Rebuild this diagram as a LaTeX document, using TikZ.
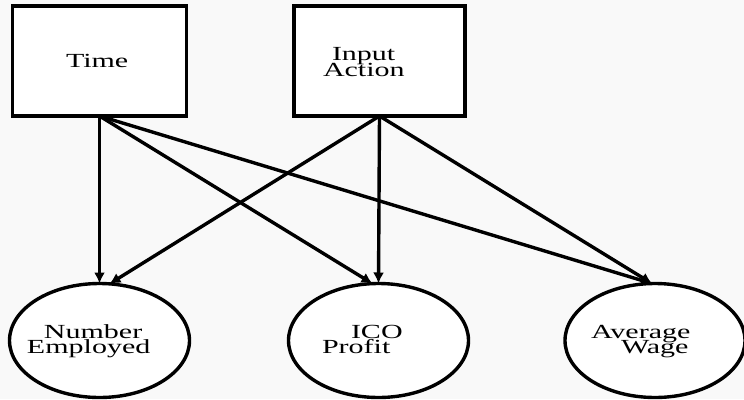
\documentclass[tikz,border=0pt]{standalone}
\usepackage{fontspec}
\setmainfont{Liberation Serif}[FakeStretch=1.5]
\usetikzlibrary{arrows.meta,shapes.geometric}
\definecolor{paper}{HTML}{F9F9F9}
% two stacked lines, each with its own left indent; baseline = first line
\newcommand\pairlines[5]{\vtop{\baselineskip=#1\lineskiplimit=-50pt
  \hbox{\hspace*{#2}#3}\hbox{\hspace*{#4}#5}}}
\begin{document}
\begin{tikzpicture}[x=1pt,y=-1pt,
  every node/.style={inner sep=0pt,outer sep=0pt},
  varbox/.style={draw,fill=white,line width=3.4pt,minimum width=#1,minimum height=110pt},
  outnode/.style={draw,fill=white,ellipse,line width=3.4pt,minimum width=180pt,minimum height=114pt},
  lbl/.style={anchor=base west,font=\fontsize{20}{15}\selectfont},
  link/.style={line width=3.4pt,-{Latex[length=11pt,width=11pt]}}]
  % canvas
  \fill[paper] (0,0) rectangle (744,399);
  \useasboundingbox (0,0) rectangle (744,399);

  % input variables
  \node[varbox=174pt] (time) at (99.5,61) {};
  \node[varbox=171pt] (inp) at (379.5,61) {};
  % output variables
  \node[outnode] (num) at (99.5,340.5) {};
  \node[outnode] (ico) at (378.5,340.5) {};
  \node[outnode] (wage) at (655,340.5) {};

  % labels
  \node[lbl] (timeT) at (66,67) {Time};
  \node[lbl] (inpT) at (323,60) {\pairlines{16pt}{9pt}{Input}{0pt}{Action}};
  \node[lbl] (numT) at (27,338) {\pairlines{15pt}{17pt}{Number}{0pt}{Employed}};
  \node[lbl] (icoT) at (322,338) {\pairlines{15pt}{29pt}{ICO}{0pt}{Profit}};
  \node[lbl] (wageT) at (591,338) {\pairlines{15pt}{0pt}{Average}{30pt}{Wage}};

  % dependencies
  \draw[link] (time.south) -- (num.north);
  \draw[link] (time.south) -- (ico.96);
  \draw[link] (time.south) -- (wage.93);
  \draw[link] (inp.south) -- (num.80);
  \draw[link] (inp.south) -- (ico.north);
  \draw[link] (inp.south) -- (wage.93);
\end{tikzpicture}
\end{document}
